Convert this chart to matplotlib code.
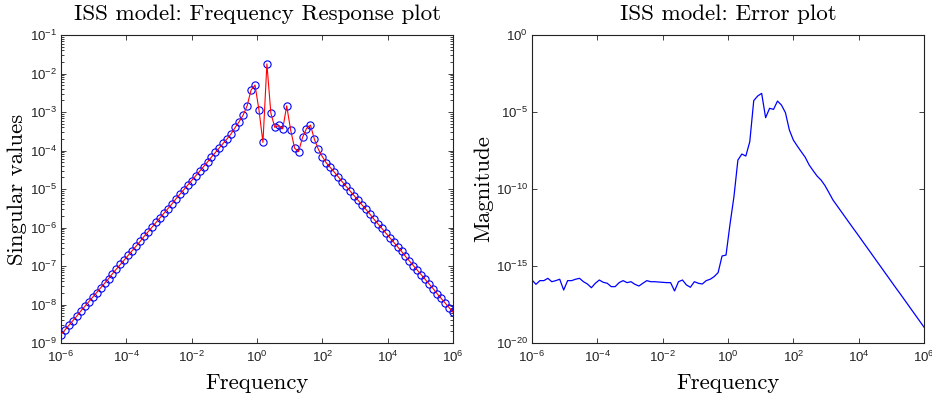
import numpy as np
import matplotlib
matplotlib.use("Agg")
import matplotlib.pyplot as plt
from matplotlib.ticker import LogLocator, NullLocator

# frequency grid (log10 exponents), 100 points from 1e-6 to 1e6
freq_exp_lo, freq_exp_hi, n_freq = -6, 6, 100

# left plot: log10 of singular values
sv_log = [
    -8.78, -8.66, -8.54, -8.42, -8.30, -8.17, -8.05, -7.93, -7.81, -7.69,
    -7.57, -7.45, -7.33, -7.20, -7.08, -6.96, -6.84, -6.72, -6.60, -6.48,
    -6.36, -6.23, -6.11, -5.99, -5.87, -5.75, -5.63, -5.51, -5.39, -5.26,
    -5.14, -5.02, -4.90, -4.78, -4.66, -4.54, -4.42, -4.30, -4.17, -4.05,
    -3.93, -3.81, -3.69, -3.56, -3.40, -3.25, -3.08, -2.84, -2.43, -2.30,
    -2.95, -3.79, -1.75, -3.03, -3.40, -3.35, -3.44, -2.84, -3.47, -3.94,
    -4.03, -3.66, -3.43, -3.34, -3.71, -3.97, -4.16, -4.32, -4.44, -4.56,
    -4.68, -4.81, -4.93, -5.05, -5.17, -5.29, -5.41, -5.53, -5.65, -5.78,
    -5.90, -6.02, -6.14, -6.26, -6.38, -6.50, -6.62, -6.75, -6.87, -6.99,
    -7.11, -7.23, -7.35, -7.47, -7.59, -7.72, -7.84, -7.96, -8.08, -8.20,
]

# right plot: log10 of error magnitude
err_log = [
    -15.91, -16.19, -15.95, -15.95, -15.80, -16.02, -15.95, -15.86, -16.56, -15.95,
    -15.95, -15.86, -15.80, -16.02, -16.17, -16.41, -16.12, -15.91, -16.06, -16.12,
    -16.34, -16.34, -16.08, -15.95, -16.08, -16.02, -16.19, -16.30, -16.12, -15.95,
    -16.02, -16.02, -16.04, -16.06, -16.08, -16.08, -16.62, -16.02, -15.91, -16.23,
    -16.38, -16.02, -16.12, -16.17, -15.95, -15.86, -15.69, -15.43, -14.35, -14.29,
    -12.30, -10.50, -8.12, -7.73, -7.86, -6.93, -4.26, -3.96, -3.79, -5.37,
    -4.76, -4.83, -4.29, -4.55, -5.04, -6.17, -6.82, -7.21, -7.58, -7.94,
    -8.44, -8.81, -9.16, -9.42, -9.78, -10.24, -10.71, -11.07, -11.43, -11.79,
    -12.15, -12.51, -12.86, -13.22, -13.58, -13.94, -14.30, -14.66, -15.02, -15.38,
    -15.74, -16.10, -16.46, -16.81, -17.17, -17.53, -17.89, -18.25, -18.61, -18.97,
]

titles = ["ISS model: Frequency Response plot", "ISS model: Error plot"]
ylabels = ["Singular values", "Magnitude"]

plt.rcParams["font.family"] = ["Liberation Sans Narrow", "Liberation Sans", "DejaVu Sans"]
plt.rcParams["mathtext.default"] = "regular"
plt.rcParams["font.size"] = 9

freq = np.logspace(freq_exp_lo, freq_exp_hi, n_freq)
sv = 10.0 ** np.array(sv_log)
err = 10.0 ** np.array(err_log)

fig = plt.figure(figsize=(9.32, 3.98), dpi=100)
ax1 = fig.add_axes([61 / 932, 1 - 343 / 398, 392 / 932, 308 / 398])
ax2 = fig.add_axes([532 / 932, 1 - 343 / 398, 392 / 932, 308 / 398])

ax1.plot(freq, sv, "o", mfc="none", mec="#0000ff", ms=5.2, mew=0.8, zorder=2)
ax1.plot(freq, sv, "-", color="#ff0000", lw=0.8, zorder=3)
ax2.plot(freq, err, "-", color="#0000ff", lw=0.9)

for ax, title, ylab, ycoord in zip([ax1, ax2], titles, ylabels, [-0.086, -0.098]):
    ax.set_xscale("log")
    ax.set_yscale("log")
    ax.set_xlim(1e-6, 1e6)
    ax.set_xticks([1e-6, 1e-4, 1e-2, 1e0, 1e2, 1e4, 1e6])
    ax.xaxis.set_minor_locator(NullLocator())
    ax.tick_params(which="both", direction="in", top=True, right=True,
                   labelsize=9.5, colors="#222222", width=0.6)
    ax.tick_params(which="major", length=3.5, pad=3)
    ax.tick_params(axis="x", which="major", pad=5)
    ax.tick_params(which="minor", length=2)
    for sp in ax.spines.values():
        sp.set_linewidth(0.8)
        sp.set_color("#222222")
    ax.set_title(title, fontfamily="cmr10", fontsize=16.6, pad=11)
    ax.set_xlabel("Frequency", fontfamily="cmr10", fontsize=16.4)
    ax.set_ylabel(ylab, fontfamily="cmr10", fontsize=16.4)
    ax.xaxis.set_label_coords(0.5, -0.1)
    ax.xaxis.label.set_va("top")
    ax.yaxis.set_label_coords(ycoord, 0.5)

ax1.set_ylim(1e-9, 1e-1)
ax1.yaxis.set_major_locator(LogLocator(base=10, numticks=20))
ax1.yaxis.set_minor_locator(LogLocator(base=10, subs=np.arange(2, 10), numticks=20))

ax2.set_ylim(1e-20, 1e0)
ax2.set_yticks([1e-20, 1e-15, 1e-10, 1e-5, 1e0])
ax2.yaxis.set_minor_locator(NullLocator())

fig.savefig("out.png", dpi=100)
